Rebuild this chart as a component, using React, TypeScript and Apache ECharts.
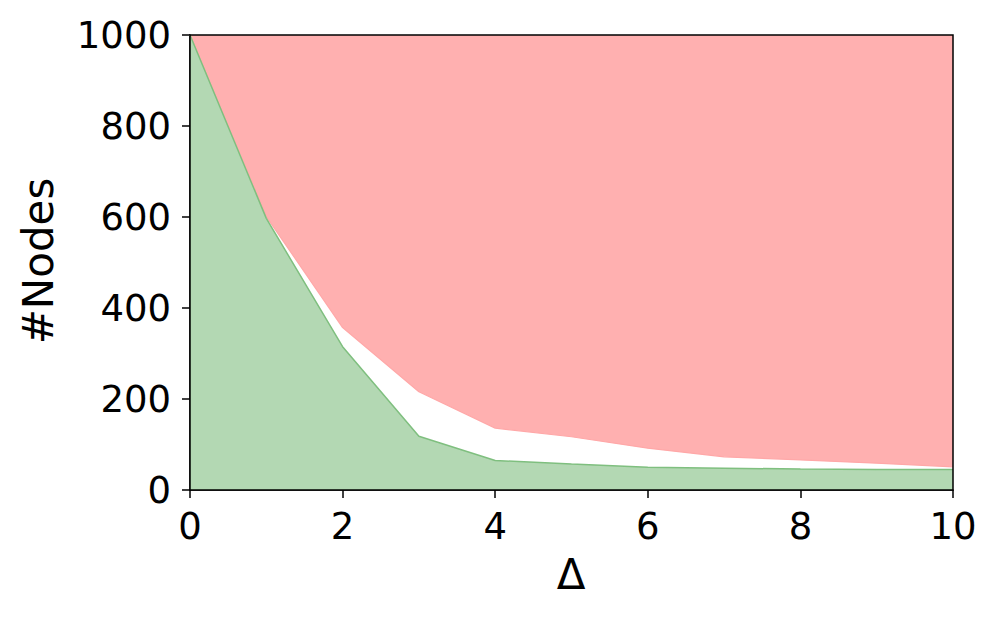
import React, { useEffect, useRef } from "react";
import * as echarts from "echarts";

const deltas = [0, 1, 2, 3, 4, 5, 6, 7, 8, 9, 10];
const greenValues = [1000, 597, 315, 118, 65, 57, 50, 48, 46, 45, 45];
const redLower = [1000, 601, 357, 216, 136, 117, 92, 73, 66, 59, 51];
const yMax = 1000;
const xTitle = "Δ";
const yTitle = "#Nodes";

const FONT = "DejaVu Sans";

export default function App() {
  const ref = useRef<HTMLDivElement>(null);
  useEffect(() => {
    if (!ref.current) return;
    const chart = echarts.init(ref.current, null, { renderer: "svg" });
    const axisCommon = {
      axisLine: { show: true, lineStyle: { color: "#000", width: 1.5 } },
      axisTick: { show: true, inside: false, length: 8, lineStyle: { color: "#000", width: 1.5 } },
      splitLine: { show: false },
    };
    chart.setOption({
      animation: false,
      backgroundColor: "#fff",
      grid: {
        left: 190,
        top: 35,
        width: 763,
        height: 455,
        show: true,
        borderColor: "#000",
        borderWidth: 1.5,
        backgroundColor: "transparent",
        z: 10,
      },
      xAxis: {
        type: "value",
        min: 0,
        max: 10,
        interval: 2,
        ...axisCommon,
        axisLabel: { fontSize: 37, fontFamily: FONT, color: "#000", margin: 18 },
      },
      yAxis: {
        type: "value",
        min: 0,
        max: yMax,
        interval: 200,
        ...axisCommon,
        axisLabel: {
          fontSize: 37,
          fontFamily: FONT,
          color: "#000",
          margin: 19,
          formatter: (v: number) => String(v),
        },
      },
      series: [
        {
          type: "line",
          symbol: "none",
          data: deltas.map((d, i) => [d, redLower[i]]),
          lineStyle: { width: 1.2, color: "#ffa8a8" },
          areaStyle: { color: "#ffb0b0", opacity: 1, origin: "end" },
          z: 2,
        },
        {
          type: "line",
          symbol: "none",
          data: deltas.map((d, i) => [d, greenValues[i]]),
          lineStyle: { width: 1.5, color: "#7fbf7f" },
          areaStyle: { color: "#b3d8b3", opacity: 1, origin: "start" },
          z: 4,
        },
      ],
      graphic: [
        {
          type: "text",
          x: 571,
          y: 574,
          style: {
            text: xTitle,
            fontSize: 42,
            fontFamily: FONT,
            fill: "#000",
            align: "center",
            verticalAlign: "middle",
          },
        },
        {
          type: "text",
          x: 38,
          y: 261,
          rotation: Math.PI / 2,
          style: {
            text: yTitle,
            fontSize: 42,
            fontFamily: FONT,
            fill: "#000",
            align: "center",
            verticalAlign: "middle",
          },
        },
      ],
    });
    return () => chart.dispose();
  }, []);
  return (
    <div
      ref={ref}
      style={{ position: "absolute", left: 0, top: 0, width: 998, height: 619 }}
    />
  );
}
